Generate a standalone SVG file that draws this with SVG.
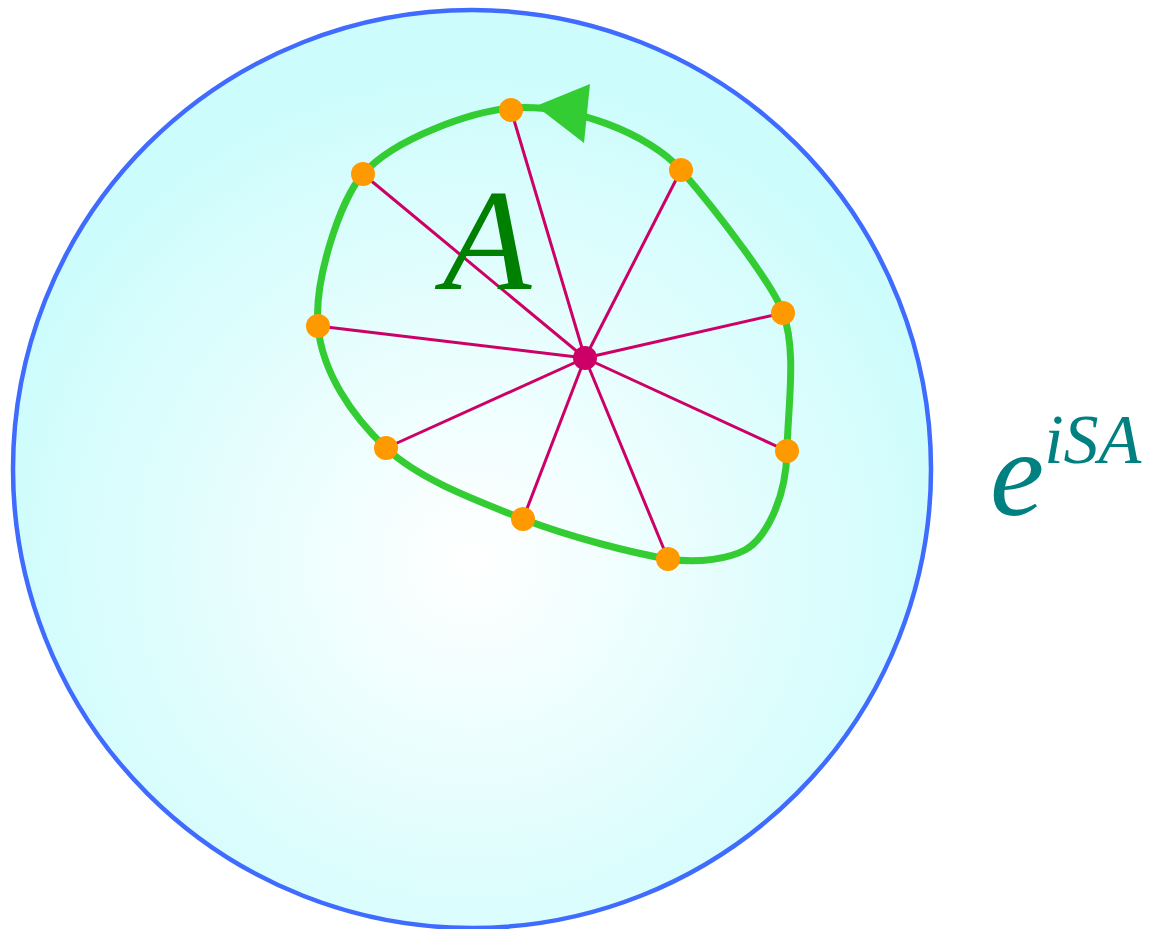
<svg xmlns="http://www.w3.org/2000/svg" width="1150" height="929" viewBox="0 0 1150 929">
<defs>
<radialGradient id="bg" cx="0.5" cy="0.6" r="0.55" fx="0.5" fy="0.6">
<stop offset="0" stop-color="#ffffff"/>
<stop offset="1" stop-color="#ccfcfc"/>
</radialGradient>
<style>
.spoke{stroke:#cc0066;stroke-width:3;fill:none}
.pt{fill:#ff9900}
.curve{stroke:#33cc33;stroke-width:7;fill:none}
</style>
</defs>
<g id="sphere">
<circle cx="472" cy="469" r="459" fill="url(#bg)" stroke="#3f6bff" stroke-width="4.5"/>
</g>
<g id="loop">
<path class="curve" d="M511,108 C471,112 395,138 363,174 C340,200 314,280 318,326 C322,372 352,416 386,448 C420,480 476,500 523,519 C570,537 632,553 668,559 C700,564 730,558 745,550 C765,539 786,500 787,451 C788,405 797,350 783,313 C775,288 720,215 681,170 C650,134 570,103 511,108 Z"/>
<polygon points="536,106 590,84 584,143" fill="#33cc33"/>
</g>
<g id="spokes">
<line class="spoke" x1="585" y1="358" x2="511" y2="110"/>
<line class="spoke" x1="585" y1="358" x2="363" y2="174"/>
<line class="spoke" x1="585" y1="358" x2="681" y2="170"/>
<line class="spoke" x1="585" y1="358" x2="783" y2="313"/>
<line class="spoke" x1="585" y1="358" x2="318" y2="326"/>
<line class="spoke" x1="585" y1="358" x2="787" y2="451"/>
<line class="spoke" x1="585" y1="358" x2="386" y2="448"/>
<line class="spoke" x1="585" y1="358" x2="523" y2="519"/>
<line class="spoke" x1="585" y1="358" x2="668" y2="559"/>
</g>
<g id="points">
<circle class="pt" cx="511" cy="110" r="12"/>
<circle class="pt" cx="363" cy="174" r="12"/>
<circle class="pt" cx="681" cy="170" r="12"/>
<circle class="pt" cx="783" cy="313" r="12"/>
<circle class="pt" cx="318" cy="326" r="12"/>
<circle class="pt" cx="787" cy="451" r="12"/>
<circle class="pt" cx="386" cy="448" r="12"/>
<circle class="pt" cx="523" cy="519" r="12"/>
<circle class="pt" cx="668" cy="559" r="12"/>
<circle cx="585" cy="358" r="12" fill="#cc0066"/>
</g>
<g id="label-A">
<text x="487" y="289" font-family="Liberation Serif, serif" font-style="italic" font-size="145" fill="#008000" text-anchor="middle">A</text>
</g>
<g id="label-exp">
<text x="990" y="515" font-family="Liberation Serif, serif" font-style="italic" font-size="122" fill="#008080">e<tspan font-size="70" dy="-52">iSA</tspan></text>
</g>
</svg>
